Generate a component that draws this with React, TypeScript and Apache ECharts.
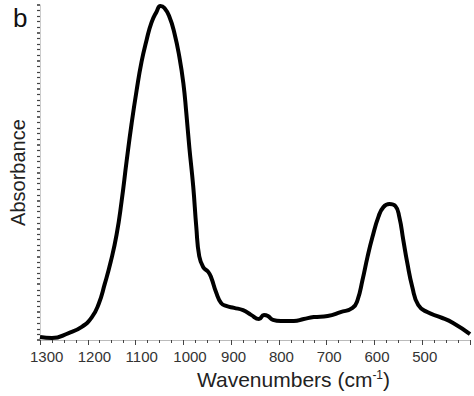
import React, { useEffect, useRef } from "react";
import * as echarts from "echarts";

const wavenumbers = [
  1300, 1275, 1240, 1212.5, 1191.7, 1177, 1164.6, 1152, 1139.6, 1129.2, 1118.75, 1108.3, 1097.9, 1087.5,
  1077, 1066.7, 1056.25, 1048, 1039.6, 1029, 1018.75, 1008.3, 1000, 993.75, 987.5, 979.2, 972.9, 966.7,
  958.3, 947.9, 941.7, 931.25, 920.8, 910.4, 893.75, 875, 858.3, 841.7, 831.25, 822.9, 812.5, 795.8,
  768.75, 748, 727, 698, 670.8, 645.8, 635.4, 625, 614.6, 604.2, 591.7, 581.25, 568.75, 556.25, 548,
  539.6, 531.25, 520.8, 508.3, 489.6, 462.5, 435.4, 400,
];
const absorbance = [
  0.011, 0.007, 0.025, 0.047, 0.081, 0.13, 0.2, 0.28, 0.378, 0.497, 0.64, 0.775, 0.893, 0.996,
  1.074, 1.137, 1.175, 1.196, 1.189, 1.157, 1.1, 1.014, 0.921, 0.813, 0.691, 0.548, 0.405, 0.3,
  0.261, 0.244, 0.224, 0.17, 0.132, 0.122, 0.115, 0.107, 0.09, 0.075, 0.09, 0.086, 0.072, 0.068,
  0.068, 0.075, 0.082, 0.086, 0.1, 0.115, 0.143, 0.215, 0.297, 0.369, 0.441, 0.476, 0.487, 0.48, 0.441,
  0.358, 0.276, 0.19, 0.125, 0.1, 0.082, 0.061, 0.021,
];
const xTickLabels = [1300, 1200, 1100, 1000, 900, 800, 700, 600, 500];

const FONT = "Liberation Sans";

export default function App() {
  const ref = useRef<HTMLDivElement>(null);
  useEffect(() => {
    if (!ref.current) return;
    const chart = echarts.init(ref.current, null, { renderer: "svg" });
    const data = wavenumbers.map((w, i) => [w, absorbance[i]]);
    chart.setOption({
      animation: false,
      backgroundColor: "#ffffff",
      title: {
        text: "b",
        left: 8,
        top: 0,
        textStyle: { fontFamily: FONT, fontSize: 26, fontWeight: "normal", color: "#111" },
      },
      grid: { left: 37, right: 4, top: 5, bottom: 56, containLabel: false },
      xAxis: {
        type: "value",
        inverse: true,
        min: 400,
        max: 1300,
        interval: 100,
        name: "Wavenumbers (cm{sup|-1})",
        nameLocation: "middle",
        nameGap: 27,
        nameTextStyle: {
          fontFamily: FONT,
          fontSize: 21,
          color: "#222",
          padding: [0, 0, 0, 77],
          rich: {
            sup: { fontFamily: FONT, fontSize: 12, color: "#222", padding: [0, 0, 9, 0] },
          },
        },
        axisLine: { show: true, lineStyle: { color: "#bbbbbb", width: 1 } },
        axisTick: { show: true, length: 5, lineStyle: { color: "#444", width: 1 } },
        minorTick: { show: true, splitNumber: 4, length: 3, lineStyle: { color: "#444", width: 1 } },
        splitLine: { show: false },
        axisLabel: {
          margin: 9,
          color: "#333",
          fontFamily: FONT,
          fontSize: 15,
          showMaxLabel: true,
          showMinLabel: true,
          formatter: (v: number) => (xTickLabels.includes(v) ? `{a|${v}}` : ""),
          rich: { a: { width: 20, align: "left", fontFamily: FONT, fontSize: 15, color: "#333" } },
        },
      },
      yAxis: {
        type: "value",
        min: 0,
        max: 1.2,
        interval: 0.1,
        name: "Absorbance",
        nameLocation: "middle",
        nameGap: 12,
        nameTextStyle: { fontFamily: FONT, fontSize: 20, color: "#222" },
        axisLine: { show: true, lineStyle: { color: "#cccccc", width: 1 } },
        axisTick: { show: true, length: 3, lineStyle: { color: "#333", width: 1.5 } },
        minorTick: { show: true, splitNumber: 5, length: 3, lineStyle: { color: "#444", width: 1.2 } },
        axisLabel: { show: false },
        splitLine: { show: false },
      },
      series: [
        {
          type: "line",
          data,
          smooth: 0.5,
          showSymbol: false,
          lineStyle: { color: "#000", width: 4 },
        },
      ],
    });
    return () => chart.dispose();
  }, []);
  return <div ref={ref} style={{ width: 474, height: 396, position: "absolute", left: 0, top: 0 }} />;
}
